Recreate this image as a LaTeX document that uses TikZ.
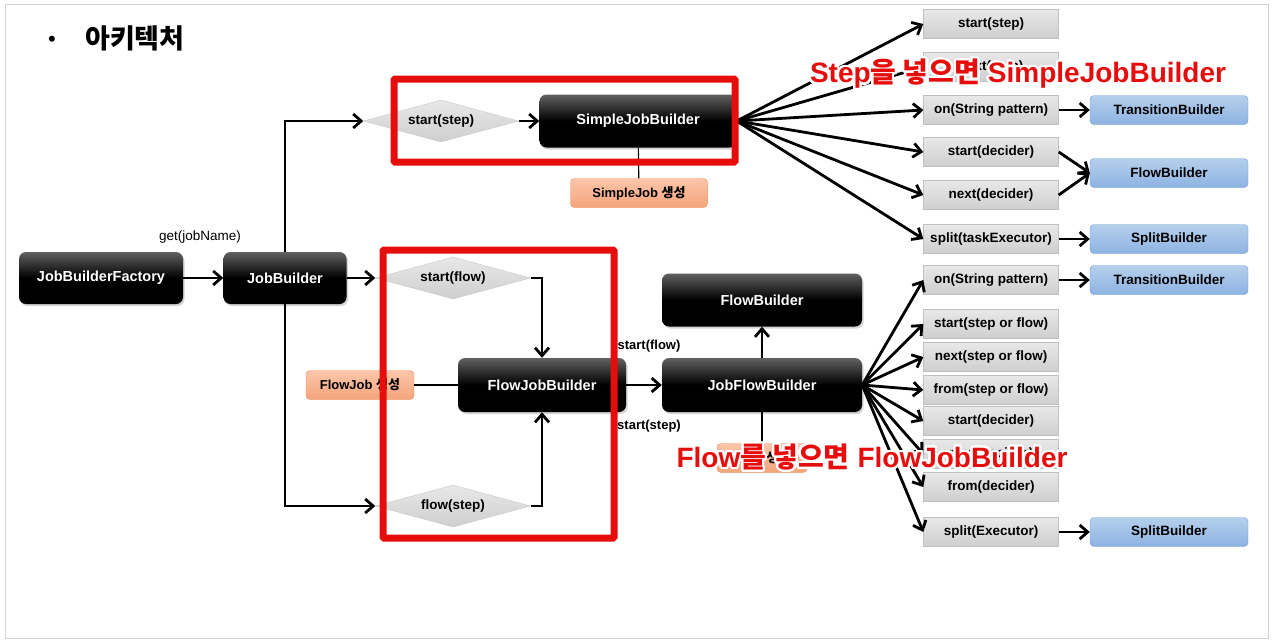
\documentclass[tikz,border=0pt]{standalone}
\usepackage{fontspec}
\setmainfont{Liberation Sans}
\newfontfamily\kr{Noto Sans CJK KR}
\usepackage{contour}
\contourlength{2.2pt}
\contournumber{40}
\usetikzlibrary{arrows.meta,shapes.geometric,shadows}

\definecolor{hotred}{HTML}{E60D0D}
\definecolor{bluetop}{HTML}{B5CFEC}
\definecolor{bluebot}{HTML}{8DB3E2}
\definecolor{blueedge}{HTML}{6F9FD6}
\definecolor{orangetop}{HTML}{FBC6AA}
\definecolor{orangebot}{HTML}{F5A47A}
\definecolor{orangeedge}{HTML}{F08A50}

\tikzset{
  builder/.style={rounded corners=7pt, top color=black!62, bottom color=black, middle color=black,
    text=white, inner sep=0pt, font=\fontsize{14.5}{17}\selectfont\bfseries,
    drop shadow={opacity=.35, shadow xshift=1.5pt, shadow yshift=-2pt}},
  choice/.style={diamond, aspect=3.7, draw=gray!45, top color=gray!18, bottom color=gray!38,
    minimum width=155pt, minimum height=42pt, inner sep=0pt, font=\fontsize{13.5}{16}\selectfont\bfseries},
  method/.style={draw=gray!50, top color=gray!18, bottom color=gray!38, minimum width=135pt,
    minimum height=29pt, inner sep=0pt, font=\fontsize{13.5}{16}\selectfont\bfseries},
  target/.style={draw=blueedge, rounded corners=4pt, top color=bluetop, bottom color=bluebot,
    minimum width=158pt, minimum height=29pt, inner sep=0pt, font=\fontsize{13.5}{16}\selectfont\bfseries},
  jobnote/.style={draw=orangeedge, rounded corners=4pt, top color=orangetop, bottom color=orangebot,
    minimum height=29pt, inner sep=0pt, font=\fontsize{13}{15}\selectfont\bfseries},
  callflow/.style={line width=2.8pt, -{Straight Barb[length=8pt,width=14pt]}},
  tie/.style={line width=1.6pt},
  callname/.style={font=\fontsize{13}{15}\selectfont\bfseries},
  redframe/.style={draw=hotred, line width=7pt, rounded corners=1pt},
  shout/.style={text=hotred, font=\fontsize{28}{31}\selectfont\bfseries, inner sep=0pt}
}

\begin{document}
\begin{tikzpicture}[x=1pt, y=-1pt]
  \useasboundingbox (0,0) rectangle (1273,643);
  \draw[gray!35, line width=1pt] (5,4) rectangle (1268,638);
  \node[font=\fontsize{22}{24}\selectfont] (dot) at (52,41) {•};
  \node[font=\fontsize{27}{30}\selectfont\bfseries\kr, anchor=west, inner sep=0pt] (title) at (85,38) {아키텍처};

  \node[builder, minimum width=164pt, minimum height=52pt] (factory) at (101,278) {JobBuilderFactory};
  \node[builder, minimum width=123pt, minimum height=52pt] (jobb) at (285,278) {JobBuilder};
  \node[builder, minimum width=197pt, minimum height=53pt] (simple) at (638,121) {SimpleJobBuilder};
  \node[builder, minimum width=168pt, minimum height=54pt] (flowjob) at (542,385) {FlowJobBuilder};
  \node[builder, minimum width=200pt, minimum height=53pt] (flowb) at (762,300) {FlowBuilder};
  \node[builder, minimum width=200pt, minimum height=54pt] (jobflow) at (762,385) {JobFlowBuilder};

  \node[choice] (startstep) at (441,121) {start(step)};
  \node[choice] (startflow) at (453,278) {start(flow)};
  \node[choice] (flowstep) at (453,506) {flow(step)};

  \node[jobnote, minimum width=137pt] (simplenote) at (639,193) {SimpleJob {\kr 생성}};
  \node[jobnote, minimum width=108pt] (flownote) at (360,385) {FlowJob {\kr 생성}};
  \node[jobnote, minimum width=90pt] (flowbnote) at (762,458) {Flow {\kr 생성}};

  \node[method] (s1) at (991,24) {start(step)};
  \node[method] (s2) at (991,67) {next(step)};
  \node[method] (s3) at (991,110) {on(String pattern)};
  \node[method] (s4) at (991,152) {start(decider)};
  \node[method] (s5) at (991,195) {next(decider)};
  \node[method] (s6) at (991,239) {split(taskExecutor)};
  \node[target] (trans1) at (1169,110) {TransitionBuilder};
  \node[target] (flowblue) at (1169,173) {FlowBuilder};
  \node[target] (split1) at (1169,239) {SplitBuilder};

  \node[method] (f1) at (991,280) {on(String pattern)};
  \node[method] (f2) at (991,324) {start(step or flow)};
  \node[method] (f3) at (991,357) {next(step or flow)};
  \node[method] (f4) at (991,390) {from(step or flow)};
  \node[method] (f5) at (991,421) {start(decider)};
  \node[method] (f6) at (991,454) {next(decider)};
  \node[method] (f7) at (991,487) {from(decider)};
  \node[method] (f8) at (991,532) {split(Executor)};
  \node[target] (trans2) at (1169,280) {TransitionBuilder};
  \node[target] (split2) at (1169,532) {SplitBuilder};

  \draw[callflow] (factory) -- (jobb);
  \node[font=\fontsize{13.5}{16}\selectfont] (getname) at (200,237) {get(jobName)};
  \draw[callflow] (jobb.north) |- (startstep.west);
  \draw[callflow] (jobb) -- (startflow);
  \draw[callflow] (jobb.south) |- (flowstep.west);
  \draw[callflow] (startstep) -- (simple);
  \draw[callflow] (startflow.east) -| (flowjob.north);
  \draw[callflow] (flowstep.east) -| (flowjob.south);
  \draw[line width=1.1pt] (simple) -- (simplenote);
  \draw[tie] (flownote) -- (flowjob);
  \draw[callflow] (flowjob) -- (jobflow);
  \node[callname] (startflowname) at (649,346) {start(flow)};
  \node[callname] (startstepname) at (649,426) {start(step)};
  \draw[callflow] (jobflow) -- (flowb);
  \draw[tie] (jobflow) -- (flowbnote);

  \foreach \m in {s1,s2,s3,s4,s5,s6} \draw[callflow] (simple.east) -- (\m.west);
  \foreach \m in {f1,f2,f3,f4,f5,f6,f7,f8} \draw[callflow] (jobflow.east) -- (\m.west);
  \draw[callflow] (s3) -- (trans1);
  \draw[callflow] (s4.east) -- (flowblue.west);
  \draw[callflow] (s5.east) -- (flowblue.west);
  \draw[callflow] (s6) -- (split1);
  \draw[callflow] (f1) -- (trans2);
  \draw[callflow] (f8) -- (split2);

  \draw[redframe] (394,79) rectangle (735,162);
  \draw[redframe] (383,250) rectangle (614,538);

  \node[shout] (stepmsg) at (1018,75) {\contour{white}{Step{\kr 을 넣으면} SimpleJobBuilder}};
  \node[shout] (flowmsg) at (872,458) {\contour{white}{Flow{\kr 를 넣으면} FlowJobBuilder}};
\end{tikzpicture}
\end{document}
